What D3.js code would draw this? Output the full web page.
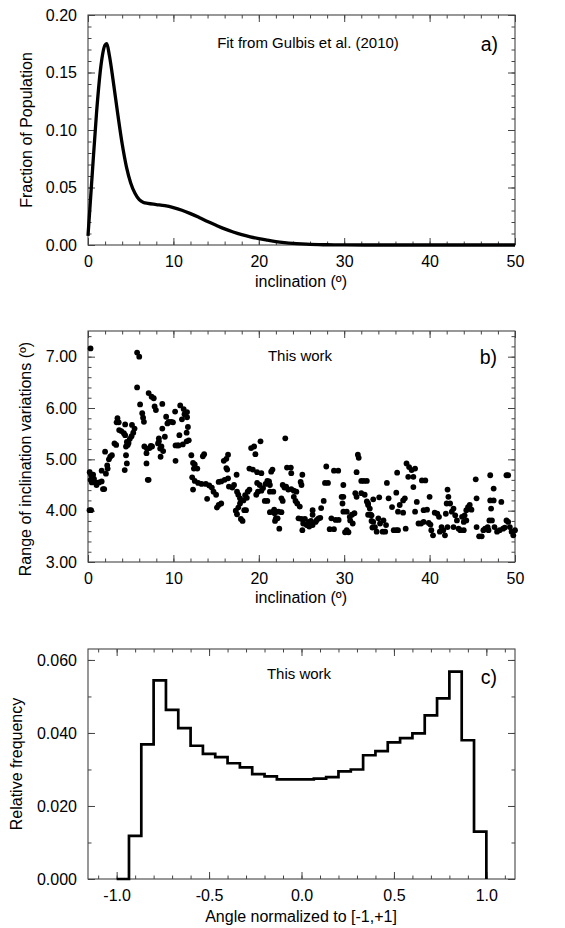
<!DOCTYPE html>
<html lang="en">
<head>
<meta charset="utf-8">
<title>inclination panels</title>
<script src="https://d3js.org/d3.v7.min.js"></script>
<style>
  body{margin:0;background:#fff;font-family:"Liberation Sans",Arial,Helvetica,sans-serif;}
  .tick text{font-family:"Liberation Sans",Arial,Helvetica,sans-serif;font-size:16px;fill:#000;}
  .tick line{stroke:#444;}
</style>
</head>
<body>
<div id="chart"></div>
<script>
// panel a) fit curve
var curveIncl = [0, 0.5, 1, 1.5, 2, 2.2, 2.5, 3, 3.5, 4, 4.5, 5, 5.5, 6, 6.5, 7, 8, 9, 10, 11, 12, 13, 14, 15, 16, 17, 18, 19, 20, 21, 22, 23, 24, 25, 26, 27, 28, 30, 35, 40, 45, 50]
var curveFrac = [0.008, 0.062, 0.115, 0.155, 0.174, 0.175, 0.165, 0.140, 0.113, 0.088, 0.068, 0.054, 0.045, 0.0395, 0.037, 0.0362, 0.0352, 0.0342, 0.0325, 0.0302, 0.0273, 0.024, 0.0205, 0.0172, 0.014, 0.0113, 0.009, 0.0071, 0.0055, 0.0042, 0.003, 0.0021, 0.0014, 0.0009, 0.0005, 0.0003, 0.0002, 0.00005, 0, 0, 0, 0]

// panel b) scatter points
var scatIncl = [0.3,0.18,0.36,0.2,0.35,0.5,0.3,0.6,0.7,0.45,0.9,1.0,1.3,1.6,1.75,1.9,
  1.6,2.1,2.25,2.0,2.6,2.8,2.3,2.45,
  3.1,3.3,3.45,3.35,3.6,3.65,3.9,4.2,4.35,4.35,4.55,4.65,4.45,4.75,4.9,5.1,5.3,5.45,5.15,4.45,4.55,4.3,
  5.75,6.0,5.75,6.1,6.35,6.45,6.55,6.6,6.9,7.35,6.85,6.85,7.0,7.1,
  7.1,7.45,7.7,7.8,7.95,8.7,8.7,8.3,8.2,8.45,8.6,8.8,9.0,9.15,9.45,9.75,10.2,10.25,10.5,10.25,7.2,7.5,8.5,8.3,9.95,9.3,
  10.8,11.2,11.6,11.3,11.0,11.6,11.7,11.55,10.7,11.8,11.55,11.1,10.6,
  12.1,13.6,13.45,12.3,12.5,12.4,12.8,12.2,12.5,12.3,12.9,13.3,13.8,14.2,14.5,14.7,15.0,13.95,15.3,15.6,15.1,
  15.3,15.6,16.0,16.4,15.9,16.2,16.4,16.2,16.3,16.5,16.9,17.1,17.4,17.45,17.6,17.8,17.8,17.6,17.3,17.45,18.1,17.9,18.5,18.3,18.7,18.9,
  19.1,19.45,19.6,20.2,18.9,19.3,19.8,20.3,19.8,20.1,19.9,19.7,20.3,20.5,20.8,21.0,21.2,21.45,21.6,20.7,21.0,21.3,21.7,21.3,21.3,21.7,21.9,22.0,
  18.4,18.6,18.2,21.8,22.2,22.4,
  23.1,21.85,22.3,22.65,23.3,23.75,23.8,22.8,23.0,23.2,23.45,23.8,24.1,24.4,22.65,22.8,24.1,24.3,24.5,24.8,25.1,24.9,25.0,
  24.65,25.0,25.4,25.2,25.1,25.6,25.85,26.1,26.3,25.9,26.3,26.65,26.8,27.0,26.3,27.3,27.2,27.6,27.9,27.75,28.1,
  28.3,28.8,28.5,29.0,28.8,29.3,29.35,29.9,29.7,29.8,29.9,29.9,30.3,30.1,30.5,30.3,30.65,30.9,31.2,31.3,31.45,31.6,31.7,31.45,
  32.0,32.3,32.65,32.0,32.4,32.65,32.8,32.8,33.1,33.2,33.3,30.7,31.0,
  32.8,33.0,33.2,33.4,33.6,33.8,33.4,34.1,34.0,34.2,34.6,34.9,34.5,34.8,35.2,35.0,35.6,35.8,36.1,36.3,36.2,36.1,
  36.3,36.5,36.9,37.1,36.9,37.2,37.3,37.6,37.9,37.5,38.1,38.3,38.1,38.3,38.5,39.1,39.5,38.7,39.0,39.3,39.3,39.7,40.0,
  39.9,40.1,40.2,40.4,40.6,40.9,41.1,41.4,41.2,41.6,42.0,42.2,42.1,41.9,41.8,42.1,42.4,42.6,42.8,43.0,43.2,42.8,43.4,
  43.8,44.0,44.1,44.3,44.5,44.7,44.9,44.0,43.6,44.3,45.4,45.5,45.5,45.8,46.1,46.3,46.5,46.8,46.9,
  47.1,47.1,47.2,47.0,47.5,47.5,47.3,47.6,47.9,48.4,48.2,48.6,48.8,49.0,49.2,49.0,49.2,49.4,49.6,49.8,50.0]
var scatRange = [7.16,4.01,4.01,4.75,4.7,4.65,4.6,4.7,4.62,4.55,4.55,4.5,4.55,4.57,4.42,4.42,
  4.78,4.72,4.88,5.15,5.05,5.08,4.82,5.0,
  5.31,5.28,5.8,5.72,5.72,5.57,5.55,5.51,5.68,5.47,5.34,5.28,5.25,5.32,5.4,5.45,5.52,5.6,5.67,5.08,4.92,4.79,
  7.08,7.0,6.4,6.07,5.9,5.81,5.73,5.25,5.21,5.26,5.12,4.92,4.6,4.6,
  6.29,6.22,6.19,6.03,5.96,6.08,5.6,5.41,5.31,5.21,5.25,5.16,5.44,5.83,5.73,5.73,5.93,5.27,5.27,4.97,5.22,5.25,5.05,5.35,5.72,5.7,
  6.05,5.98,5.92,5.88,5.78,5.82,5.63,5.52,5.47,5.37,5.35,5.29,5.27,
  5.08,5.1,5.06,4.93,4.9,4.82,4.82,4.65,4.58,4.41,4.54,4.52,4.52,4.49,4.45,4.37,4.31,4.23,4.11,4.14,4.06,
  4.56,4.57,4.6,4.63,4.97,5.01,5.09,4.83,4.8,4.47,4.45,4.5,4.7,4.37,4.31,4.24,4.14,4.06,4.0,3.93,3.8,3.84,4.01,4.01,4.37,4.41,
  5.22,5.25,5.1,5.35,4.82,4.8,4.75,4.73,4.54,4.5,4.37,4.31,4.39,4.44,4.52,4.58,4.57,4.76,4.8,4.19,4.19,4.5,4.37,4.37,3.97,3.98,3.8,3.85,
  4.3,4.25,4.2,4.02,3.85,3.65,
  5.41,3.95,3.98,3.97,4.84,4.84,4.73,4.5,4.45,4.47,4.41,4.42,4.39,4.37,4.24,4.19,4.27,4.19,4.14,4.08,4.7,4.56,4.5,
  3.85,3.84,3.84,3.75,3.62,3.72,3.78,3.8,3.92,3.69,3.72,3.78,3.82,3.85,4.01,4.05,3.86,4.19,4.86,4.54,4.54,
  3.64,3.64,3.85,3.82,4.78,4.78,3.82,4.5,4.27,4.14,4.27,3.98,3.98,3.58,3.58,3.62,3.88,3.92,3.95,4.34,4.27,5.09,5.03,4.75,
  4.58,4.58,4.58,4.34,4.31,4.18,4.11,3.92,3.92,3.8,3.67,3.81,3.75,
  4.14,4.04,3.91,3.78,3.68,3.59,4.22,4.26,3.85,3.75,3.81,3.72,3.59,3.59,4.24,4.54,4.07,3.62,3.62,3.62,4.74,4.35,
  3.98,4.11,4.2,4.24,3.96,3.65,4.92,4.85,4.79,4.66,4.66,4.82,4.46,3.98,4.17,4.59,4.59,3.75,3.75,3.78,4.01,4.02,4.27,
  3.76,3.73,3.62,3.52,3.96,3.94,3.88,3.68,3.59,3.62,4.14,4.27,4.41,3.94,3.52,3.68,4.14,3.98,4.04,3.91,3.81,3.68,3.65,
  3.88,3.78,3.91,4.01,4.07,4.11,4.02,3.62,3.62,3.81,4.61,4.24,3.68,3.5,3.5,3.62,3.65,3.68,3.62,
  4.69,4.2,4.04,3.81,4.2,4.43,3.81,3.68,3.59,4.17,3.62,3.65,3.67,4.69,4.69,3.81,3.78,3.68,3.59,3.52,3.62]

// panel c) histogram, 30 bins from -1 to +1
var binLo = -1, binHi = 1
var histFreq = [0, 0.0118, 0.0369, 0.0544, 0.0463, 0.0413, 0.0365, 0.0343, 0.0334, 0.0317, 0.0306, 0.0287, 0.0281, 0.0273, 0.0273,
  0.0273, 0.0275, 0.0279, 0.0295, 0.0300, 0.0339, 0.0350, 0.0374, 0.0386, 0.0399, 0.0448, 0.0495, 0.0568, 0.0380, 0.0130]

var svg = d3.select("#chart").append("svg").attr("width", 565).attr("height", 928)

var left = 88, right = 515

// plain hyphen for negatives, like the original
function fmt(spec) {
  var f = d3.format(spec)
  return function(d){ return f(d).replace("\u2212", "-") }
}

// draws frame + inward ticks on all 4 sides
function frame(x, y, xMaj, xMin, yMaj, yMin, xFmt, yFmt, top, bottom) {
  var g = svg.append("g")
  function ax(gen, sc, vals, size, f, tr) {
    var a = gen(sc).tickValues(vals).tickSizeInner(size).tickSizeOuter(0).tickPadding(11)
    a.tickFormat(f ? f : function(){ return "" })
    var s = g.append("g").attr("transform", tr).call(a)
    s.select(".domain").remove()
    return s
  }
  ax(d3.axisBottom, x, xMin, -3.5, null, "translate(0," + bottom + ")")
  ax(d3.axisBottom, x, xMaj, -7, xFmt, "translate(0," + bottom + ")")
  ax(d3.axisTop, x, xMin, -3.5, null, "translate(0," + top + ")")
  ax(d3.axisTop, x, xMaj, -7, null, "translate(0," + top + ")")
  ax(d3.axisLeft, y, yMin, -3.5, null, "translate(" + left + ",0)")
  ax(d3.axisLeft, y, yMaj, -7, yFmt, "translate(" + left + ",0)")
  ax(d3.axisRight, y, yMin, -3.5, null, "translate(" + right + ",0)")
  ax(d3.axisRight, y, yMaj, -7, null, "translate(" + right + ",0)")
  g.append("rect").attr("x", left).attr("y", top).attr("width", right - left).attr("height", bottom - top)
    .attr("fill", "none").attr("stroke", "#444").attr("stroke-width", 1.1)
}

function label(txt, x, y, size, anchor, rot) {
  var t = svg.append("text").text(txt).attr("font-size", size).attr("text-anchor", anchor || "middle")
  if (rot) t.attr("transform", "translate(" + x + "," + y + ") rotate(-90)")
  else t.attr("x", x).attr("y", y)
  return t
}

// ---------- a)
var xa = d3.scaleLinear().domain([0, 50]).range([left, right])
var ya = d3.scaleLinear().domain([0, 0.2]).range([245, 15])
frame(xa, ya, d3.range(0, 6).map(function(i){ return i * 10 }), d3.range(0, 26).map(function(i){ return i * 2 }),
  d3.range(0, 5).map(function(i){ return i * 0.05 }), d3.range(0, 21).map(function(i){ return i * 0.01 }),
  fmt("d"), fmt(".2f"), 15, 245)

var curvePts = curveIncl.map(function(d, i){ return [d, curveFrac[i]] })
svg.append("path").datum(curvePts)
  .attr("d", d3.line().x(function(d){ return xa(d[0]) }).y(function(d){ return ya(d[1]) }).curve(d3.curveMonotoneX))
  .attr("fill", "none").attr("stroke", "#000").attr("stroke-width", 3.3).attr("stroke-linejoin", "round")

label("Fit from Gulbis et al. (2010)", 308, 48, 15)
label("a)", 498, 51, 19.5, "end")
label("inclination (º)", 301, 287, 16)
label("Fraction of Population", 32, 130, 16, "middle", true)

// ---------- b)
var xb = d3.scaleLinear().domain([0, 50]).range([left, right])
var yb = d3.scaleLinear().domain([3, 7.5]).range([562, 331])
frame(xb, yb, d3.range(0, 6).map(function(i){ return i * 10 }), d3.range(0, 26).map(function(i){ return i * 2 }),
  d3.range(0, 5).map(function(i){ return 3 + i }), d3.range(0, 23).map(function(i){ return 3 + i * 0.2 }),
  fmt("d"), fmt(".2f"), 331, 562)

svg.append("g").selectAll("circle")
  .data(scatIncl)
  .enter()
  .append("circle")
  .attr("cx", function(d){ return xb(d) })
  .attr("cy", function(d, i){ return yb(scatRange[i]) })
  .attr("r", 2.9)
  .attr("fill", "#000")

label("This work", 300, 361, 15)
label("b)", 497, 364, 19.5, "end")
label("inclination (º)", 301, 603, 16)
label("Range of inclination variations (º)", 31, 459, 16, "middle", true)

// ---------- c)
var xc = d3.scaleLinear().domain([-1.155, 1.155]).range([left, right])
var yc = d3.scaleLinear().domain([0, 0.063]).range([879, 649])
frame(xc, yc, d3.range(0, 5).map(function(i){ return -1 + i * 0.5 }), d3.range(0, 23).map(function(i){ return -1.1 + i * 0.1 }),
  d3.range(0, 4).map(function(i){ return i * 0.02 }), d3.range(0, 7).map(function(i){ return i * 0.01 }),
  fmt(".1f"), fmt(".3f"), 649, 879)

var bw = (binHi - binLo) / histFreq.length
var stepPts = histFreq.map(function(v, i){ return [binLo + i * bw, v] })
stepPts.push([binHi, 0])
svg.append("path").datum(stepPts)
  .attr("d", d3.line().x(function(d){ return xc(d[0]) }).y(function(d){ return yc(d[1]) }).curve(d3.curveStepAfter))
  .attr("fill", "none").attr("stroke", "#000").attr("stroke-width", 2.7).attr("stroke-linejoin", "miter")

label("This work", 299, 679, 15)
label("c)", 497, 684, 19.5, "end")
label("Angle normalized to [-1,+1]", 301, 922, 16)
label("Relative frequency", 22, 764, 16, "middle", true)
</script>
</body>
</html>
